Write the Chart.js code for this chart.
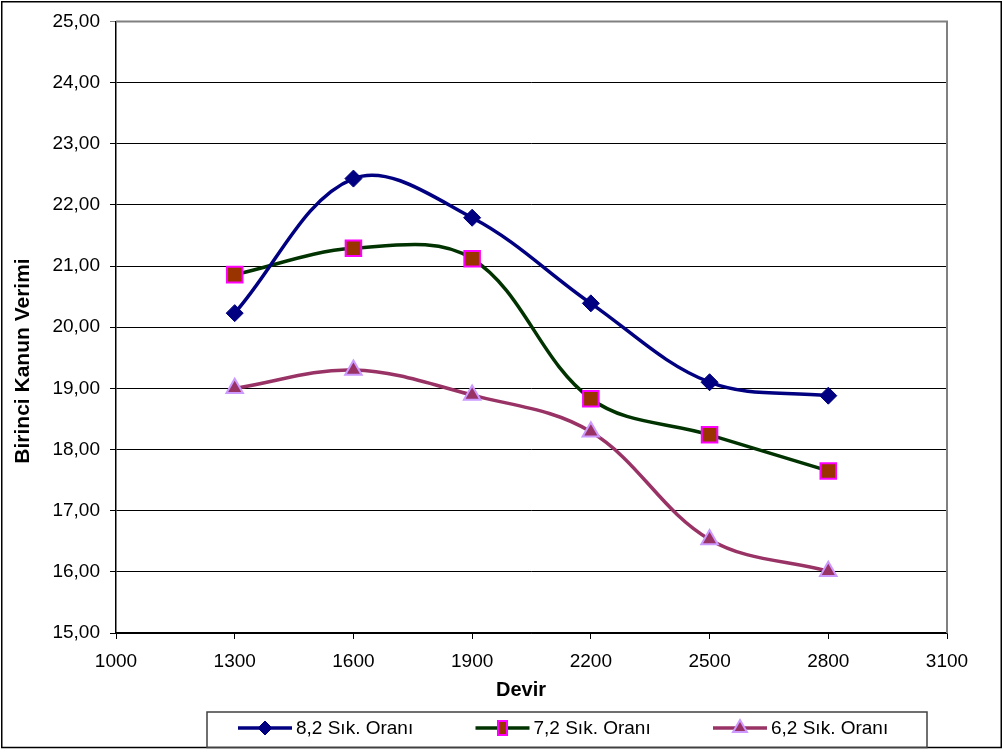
<!DOCTYPE html>
<html>
<head>
<meta charset="utf-8">
<title>Birinci Kanun Verimi - Devir</title>
<script src="https://cdn.jsdelivr.net/npm/chart.js@4/dist/chart.umd.min.js"></script>
<style>
  html, body { margin: 0; padding: 0; background: #ffffff; }
  canvas { display: block; }
</style>
</head>
<body>
<canvas id="chart" width="1003" height="753"></canvas>
<script>
// Devir (rpm) values on the x axis
const devir = [1300, 1600, 1900, 2200, 2500, 2800];

// Birinci Kanun Verimi for each compression ratio
const oran82 = [20.23, 22.43, 21.79, 20.39, 19.10, 18.88];
const oran72 = [20.86, 21.29, 21.12, 18.83, 18.24, 17.65];
const oran62 = [19.00, 19.30, 18.89, 18.29, 16.53, 16.01];

const seriesNames = ['8,2 Sık. Oranı', '7,2 Sık. Oranı', '6,2 Sık. Oranı'];
const xTitle = 'Devir';
const yTitle = 'Birinci Kanun Verimi';

// Axis ranges
const xMin = 1000, xMax = 3100, xStep = 300;
const yMin = 15, yMax = 25, yStep = 1;

const FONT = "'Liberation Sans', Arial, sans-serif";

const toPoints = (vals) => devir.map((d, i) => ({ x: d, y: vals[i] }));

const datasets = [
  {
    label: seriesNames[0],
    data: toPoints(oran82),
    borderColor: '#000080',
    backgroundColor: '#000080',
    pointBackgroundColor: '#000080',
    pointBorderColor: '#000080',
    pointBorderWidth: 1,
    pointStyle: 'rectRot',
    pointRadius: 8.5,
    legendRadius: 7,
    legendWidth: 0
  },
  {
    label: seriesNames[1],
    data: toPoints(oran72),
    borderColor: '#003300',
    backgroundColor: '#993300',
    pointBackgroundColor: '#993300',
    pointBorderColor: '#FF00FF',
    pointBorderWidth: 2,
    pointStyle: 'rect',
    pointRadius: 11,
    legendRadius: 10,
    legendWidth: 9
  },
  {
    label: seriesNames[2],
    data: toPoints(oran62),
    borderColor: '#993366',
    backgroundColor: '#993366',
    pointBackgroundColor: '#993366',
    pointBorderColor: '#CC99FF',
    pointBorderWidth: 2,
    pointStyle: 'triangle',
    pointRadius: 9.5,
    legendRadius: 8,
    legendWidth: 0
  }
].map(ds => Object.assign({
  borderWidth: 3.5,
  tension: 0.36,
  fill: false,
  pointHoverRadius: ds.pointRadius
}, ds));

// White background, outer frame, plot frame, axis titles and the boxed legend
const frame = {
  id: 'frame',
  beforeDraw(chart) {
    const ctx = chart.ctx;
    ctx.save();
    ctx.fillStyle = '#ffffff';
    ctx.fillRect(0, 0, chart.width, chart.height);
    ctx.restore();
  },
  beforeDatasetsDraw(chart) {
    const { ctx, chartArea: a } = chart;
    ctx.save();
    ctx.strokeStyle = '#808080';
    ctx.lineWidth = 2;
    ctx.beginPath();
    ctx.moveTo(a.left, a.top);
    ctx.lineTo(a.right, a.top);
    ctx.lineTo(a.right, a.bottom);
    ctx.stroke();
    ctx.restore();
  },
  afterDraw(chart) {
    const ctx = chart.ctx;
    ctx.save();
    // outer frame
    ctx.strokeStyle = '#000000';
    ctx.lineWidth = 1.5;
    ctx.strokeRect(1.75, 1.75, 999.5, 745.75);

    // axis titles
    ctx.fillStyle = '#000000';
    ctx.font = 'bold 20px ' + FONT;
    ctx.textAlign = 'center';
    ctx.textBaseline = 'middle';
    ctx.fillText(xTitle, 521, 690);
    ctx.save();
    ctx.translate(23, 361);
    ctx.rotate(-Math.PI / 2);
    ctx.font = 'bold 21px ' + FONT;
    ctx.fillText(yTitle, 0, 0);
    ctx.restore();

    // legend box
    ctx.strokeStyle = '#404040';
    ctx.lineWidth = 1.5;
    ctx.strokeRect(207, 712, 720, 35.5);

    const yMid = 728;
    const drawLegendPoint = Chart.helpers.drawPointLegend;
    chart.data.datasets.forEach((ds, i) => {
      const x0 = 238 + i * 237.5;
      ctx.strokeStyle = ds.borderColor;
      ctx.lineWidth = ds.borderWidth;
      ctx.lineCap = 'butt';
      ctx.beginPath();
      ctx.moveTo(x0, yMid);
      ctx.lineTo(x0 + 54, yMid);
      ctx.stroke();

      ctx.fillStyle = ds.pointBackgroundColor;
      ctx.strokeStyle = ds.pointBorderColor;
      ctx.lineWidth = ds.pointBorderWidth;
      const opts = { pointStyle: ds.pointStyle, radius: ds.legendRadius, rotation: 0, borderWidth: ds.pointBorderWidth };
      if (drawLegendPoint && ds.legendWidth) {
        drawLegendPoint(ctx, opts, x0 + 27, yMid, ds.legendWidth);
      } else {
        Chart.helpers.drawPoint(ctx, opts, x0 + 27, yMid);
      }

      ctx.fillStyle = '#000000';
      ctx.font = '19px ' + FONT;
      ctx.textAlign = 'left';
      ctx.textBaseline = 'middle';
      ctx.fillText(ds.label, x0 + 58, yMid + 1);
    });
    ctx.restore();
  }
};

new Chart(document.getElementById('chart'), {
  type: 'line',
  data: { datasets },
  plugins: [frame],
  options: {
    responsive: false,
    animation: false,
    events: [],
    layout: { padding: { left: 7, top: 19, right: 56, bottom: 47 } },
    plugins: {
      legend: { display: false },
      tooltip: { enabled: false },
      title: { display: false }
    },
    scales: {
      x: {
        type: 'linear',
        min: xMin,
        max: xMax,
        afterFit(scale) { scale.height = 73; },
        afterBuildTicks(scale) {
          const t = [];
          for (let v = xMin; v <= xMax; v += xStep) t.push({ value: v });
          scale.ticks = t;
        },
        ticks: {
          stepSize: xStep,
          maxRotation: 0,
          autoSkip: false,
          padding: 11,
          color: '#000000',
          font: { family: FONT, size: 19 },
          callback: (v) => String(v)
        },
        grid: {
          drawOnChartArea: false,
          drawTicks: true,
          tickLength: 6,
          color: '#000000',
          lineWidth: 1
        },
        border: { display: true, color: '#000000', width: 1.5 },
        title: { display: false }
      },
      y: {
        type: 'linear',
        min: yMin,
        max: yMax,
        afterFit(scale) { scale.width = 109; },
        ticks: {
          stepSize: yStep,
          padding: 10,
          color: '#000000',
          font: { family: FONT, size: 19 },
          callback: (v) => v.toFixed(2).replace('.', ',')
        },
        grid: {
          drawOnChartArea: true,
          drawTicks: true,
          tickLength: 6,
          color: (c) => (c.tick && c.tick.value === yMax ? '#808080' : '#000000'),
          lineWidth: 1
        },
        border: { display: true, color: '#000000', width: 1.5 },
        title: { display: false }
      }
    }
  }
});
</script>
</body>
</html>
